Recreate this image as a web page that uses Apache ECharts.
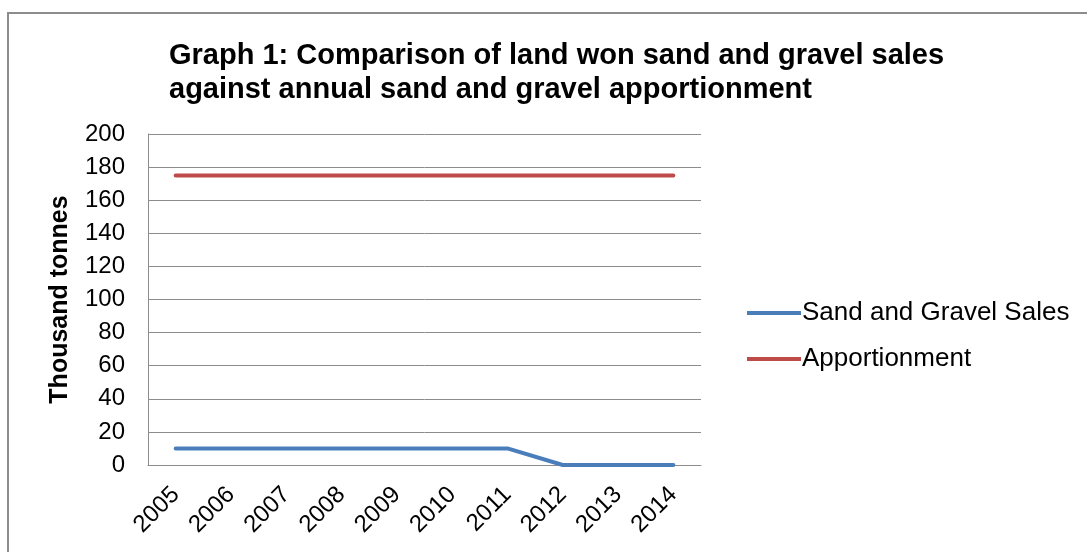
<!DOCTYPE html>
<html>
<head>
<meta charset="utf-8">
<script src="https://cdn.jsdelivr.net/npm/echarts@6/dist/echarts.min.js"></script>
<style>
  html, body { margin: 0; padding: 0; background: #fff; }
  #frame { position: absolute; left: 7px; top: 12px; width: 1090px; height: 560px; border: 2px solid #8c8c8c; box-sizing: border-box; }
  #chart { position: absolute; left: 0; top: 0; width: 1087px; height: 552px; }
</style>
</head>
<body>
<div id="frame"></div>
<div id="chart"></div>
<script>
// data
const years = ['2005', '2006', '2007', '2008', '2009', '2010', '2011', '2012', '2013', '2014']
const salesValues = [10, 10, 10, 10, 10, 10, 10, 0, 0, 0]
const apportionmentValues = [175, 175, 175, 175, 175, 175, 175, 175, 175, 175]
const seriesNames = ['Sand and Gravel Sales', 'Apportionment']

const FONT = "'Liberation Sans', Arial, sans-serif"
const chart = echarts.init(document.getElementById('chart'))

chart.setOption({
  animation: false,
  title: {
    text: 'Graph 1: Comparison of land won sand and gravel sales\nagainst annual sand and gravel apportionment',
    left: 164,
    top: 34,
    textStyle: {
      fontFamily: FONT,
      fontSize: 29,
      fontWeight: 'bold',
      color: '#000',
      lineHeight: 34,
    },
  },
  grid: { left: 148, top: 134, right: 386, bottom: 87 },
  legend: {
    orient: 'vertical',
    left: 742,
    top: 295,
    itemGap: 20,
    itemWidth: 54,
    itemHeight: 4,
    icon: 'rect',
    data: seriesNames,
    textStyle: { fontFamily: FONT, fontSize: 26, color: '#000', padding: [0, 0, 0, -4] },
  },
  xAxis: {
    type: 'category',
    data: years,
    boundaryGap: true,
    axisLine: { lineStyle: { color: '#8c8c8c', width: 1 } },
    axisTick: { show: false },
    axisLabel: {
      rotate: 45,
      interval: 0,
      margin: 26,
      fontFamily: FONT,
      fontSize: 24,
      color: '#000',
    },
  },
  yAxis: {
    type: 'value',
    min: 0,
    max: 200,
    interval: 20,
    name: 'Thousand tonnes',
    nameLocation: 'middle',
    nameGap: 75,
    nameTextStyle: { fontFamily: FONT, fontSize: 25, fontWeight: 'bold', color: '#000' },
    axisLine: { show: true, lineStyle: { color: '#8c8c8c', width: 1 } },
    axisTick: { show: false },
    axisLabel: { fontFamily: FONT, fontSize: 24, color: '#000', margin: 23 },
    splitLine: { lineStyle: { color: '#8c8c8c', width: 1 } },
  },
  series: [
    {
      name: seriesNames[0],
      type: 'line',
      data: salesValues,
      symbol: 'none',
      lineStyle: { color: '#4a7ebb', width: 4, cap: 'round' },
      itemStyle: { color: '#4a7ebb' },
    },
    {
      name: seriesNames[1],
      type: 'line',
      data: apportionmentValues,
      symbol: 'none',
      lineStyle: { color: '#be4b48', width: 4, cap: 'round' },
      itemStyle: { color: '#be4b48' },
    },
  ],
})
</script>
</body>
</html>
